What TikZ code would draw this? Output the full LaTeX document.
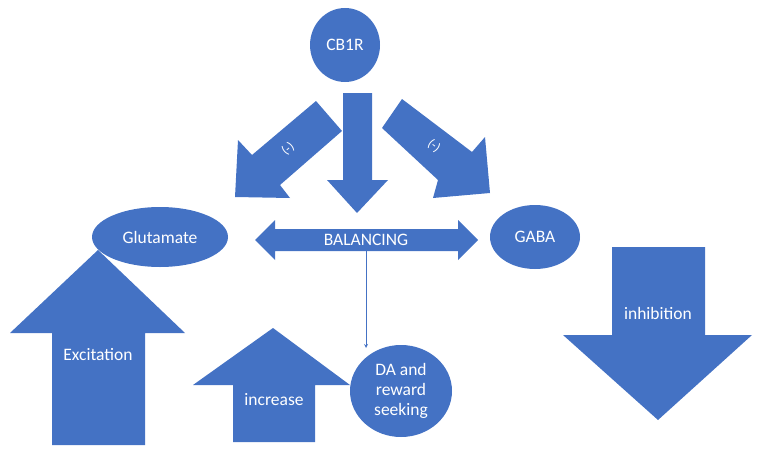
\documentclass[tikz,border=0pt]{standalone}
\usepackage{fontspec}
\setmainfont{Carlito}
\usetikzlibrary{shapes.geometric}
\begin{document}
\begin{tikzpicture}[x=1pt,y=-1pt,
  blk/.style={fill=accent,draw=none},
  lab/.style={text=white,font=\fontsize{17.5}{20}\selectfont,align=center,inner sep=0pt}]
\definecolor{accent}{HTML}{4472C4}
\useasboundingbox (0,0) rectangle (762,452);
% CB1R
\node[blk,ellipse,minimum width=70,minimum height=74] (cb) at (345,45) {};
\node[lab] (cbt) at (cb) {CB1R};
% down arrow
\path[blk] (343,93) -- (372,93) -- (372,180) -- (388,180) -- (357,213) -- (327,180) -- (343,180) -- cycle;
% diagonal arrows
\path[blk] (316,101) -- (342,131) -- (280,185) -- (290,198) -- (235,197) -- (238,140) -- (252,155) -- cycle;
\node[lab,rotate=40,font=\fontsize{13}{15}\selectfont] (m1) at (288,149) {(-)};
\path[blk] (402,99) -- (472,152) -- (485,137) -- (490,193) -- (433,198) -- (438,180) -- (382,128) -- cycle;
\node[lab,rotate=-37,font=\fontsize{13}{15}\selectfont] (m2) at (434,146) {(-)};
% Glutamate
\node[blk,ellipse,minimum width=136,minimum height=60] (glu) at (160,237) {};
\node[lab] at (glu) {Glutamate};
% GABA
\node[blk,ellipse,minimum width=90,minimum height=64] (gaba) at (535,237) {};
\node[lab] at (gaba) {GABA};
% BALANCING
\path[blk] (255,240) -- (275,220) -- (275,229) -- (458,229) -- (458,220) -- (478,240) -- (458,260) -- (458,251) -- (275,251) -- (275,260) -- cycle;
\node[lab] (bal) at (366,240) {BALANCING};
% DA
\node[blk,ellipse,minimum width=102,minimum height=92] (da) at (401,391) {};
\node[lab] at (da) {DA and\\reward\\seeking};
\coordinate (bs) at (366,251);
\draw[accent,-stealth,line width=0.8] (bs) -- (366,348);
% increase
\path[blk] (273,328) -- (350,385) -- (315,385) -- (315,442) -- (233,442) -- (233,385) -- (193,385) -- cycle;
\node[lab] at (274,400) {increase};
% Excitation
\path[blk] (98,250) -- (185,333) -- (145,333) -- (145,445) -- (52,445) -- (52,333) -- (10,333) -- cycle;
\node[lab] at (98,355) {Excitation};
% inhibition
\path[blk] (612,247) -- (705,247) -- (705,335) -- (752,335) -- (658,420) -- (563,335) -- (612,335) -- cycle;
\node[lab] at (658,313) {inhibition};
\end{tikzpicture}
\end{document}
